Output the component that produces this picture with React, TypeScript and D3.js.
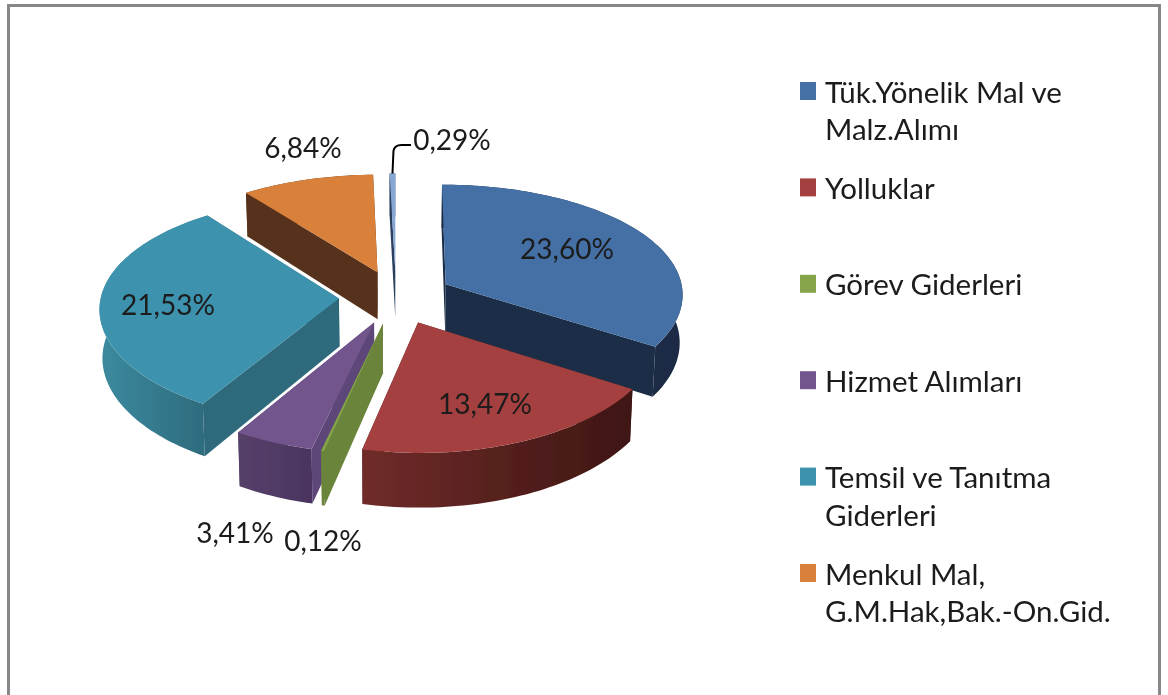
import React from "react";
import * as d3 from "d3";

const WIDTH = 1168;
const HEIGHT = 695;

// values as printed on the chart, in percent
const shares = [23.6, 13.47, 0.12, 3.41, 21.53, 6.84, 0.29];

const topColors = ["#4570a5", "#a5413f", "#86a44a", "#72558c", "#3e93ae", "#d9803a", "#86a6d6"];
const sideColors = ["#1b2e47", "#451a18", "#6b843a", "#5d4779", "#2d6a7c", "#57331a", "#2a3f5c"];
const wallStart = ["#1b2e47", "#702b29", "#6b843a", "#564069", "#3c8a9f", "#57331a", "#2a3f5c"];
const wallEnd = ["#1a2c44", "#3e1613", "#6b843a", "#4a3560", "#2d6a7c", "#57331a", "#2a3f5c"];

// the order the slices are painted in, back to front
const paintOrder = [6, 5, 0, 4, 3, 2, 1];

const legendItems = [
  ["Tük.Yönelik Mal ve", "Malz.Alımı"],
  ["Yolluklar"],
  ["Görev Giderleri"],
  ["Hizmet Alımları"],
  ["Temsil ve Tanıtma", "Giderleri"],
  ["Menkul Mal,", "G.M.Hak,Bak.-On.Gid."],
];

// label centres
const labelSpots = [
  [567, 248],
  [485, 403],
  [323, 540],
  [235, 532],
  [168, 304],
  [303, 147],
  [452, 139],
];

const FONT = "Lato, 'Open Sans', sans-serif";

// pie projection
const cx = 396;
const cy = 297;
const radiusX = 238;
const radiusY = 112;
const perspectiveX = 0.08;
const perspectiveY = 0.1;
const explode = 0.24;
const depth = 48;
const bottomShrink = 0.99;

function project(u: number, v: number, bottom = false): [number, number] {
  const wx = 1 + perspectiveX * v;
  const wy = 1 + perspectiveY * v;
  const x = (radiusX * u) / wx;
  const y = (-radiusY * v) / wy;
  if (!bottom) return [cx + x, cy + y];
  return [cx + x * bottomShrink, cy + y + depth / wy];
}

const pieLayout = d3
  .pie<number>()
  .sort(null)
  .startAngle(0)
  .endAngle(2 * Math.PI);

const polygon = d3.line().curve(d3.curveLinear);

function sliceShapes(arc: d3.PieArcDatum<number>) {
  const mid = (arc.startAngle + arc.endAngle) / 2;
  const ou = explode * Math.sin(mid);
  const ov = explode * Math.cos(mid);
  const steps = Math.max(2, Math.ceil((arc.endAngle - arc.startAngle) * 40));
  const angle = d3.scaleLinear().domain([0, steps]).range([arc.startAngle, arc.endAngle]);
  const thetas = d3.range(steps + 1).map((i) => angle(i));
  const rim = (t: number, bottom: boolean) =>
    project(ou + Math.sin(t), ov + Math.cos(t), bottom);

  const apexTop = project(ou, ov);
  const apexBottom = project(ou, ov, true);
  const topRim = thetas.map((t) => rim(t, false));
  const bottomRim = thetas.map((t) => rim(t, true));

  return {
    top: polygon([apexTop, ...topRim]) + "Z",
    outer: polygon([...topRim, ...bottomRim.slice().reverse()]) + "Z",
    sideA:
      polygon([apexTop, topRim[0], bottomRim[0], apexBottom]) + "Z",
    sideB:
      polygon([apexTop, topRim[steps], bottomRim[steps], apexBottom]) + "Z",
    rimMid: topRim[Math.floor(steps / 2)],
  };
}

export default function App() {
  const arcs = pieLayout(shares);
  const shapes = arcs.map(sliceShapes);
  const legendY = d3.scaleLinear().domain([0, 5]).range([91, 573]);
  const leaderFrom = shapes[6].rimMid;
  const leader = d3.path();
  leader.moveTo(leaderFrom[0], leaderFrom[1]);
  leader.lineTo(leaderFrom[0] + 1, 151);
  leader.quadraticCurveTo(leaderFrom[0] + 2, 145, leaderFrom[0] + 9, 145);
  leader.lineTo(411, 145);

  return (
    <svg
      width={WIDTH}
      height={HEIGHT}
      style={{ position: "absolute", left: 0, top: 0, background: "#fff" }}
    >
      <defs>
        <filter id="soft" x="0" y="0" width="100%" height="100%" filterUnits="userSpaceOnUse">
          <feGaussianBlur stdDeviation="0.6" />
        </filter>
        {shares.map((_, i) => (
          <linearGradient key={i} id={`wall${i}`} x1="0" y1="0" x2="1" y2="0">
            <stop offset="0" stopColor={wallStart[i]} />
            <stop offset="1" stopColor={wallEnd[i]} />
          </linearGradient>
        ))}
      </defs>
      <g filter="url(#soft)">
        <rect x={8.5} y={5.5} width={1151} height={760} fill="#fff" stroke="#878787" strokeWidth={3} />

        {paintOrder.map((i) => (
          <g key={i}>
            <path d={shapes[i].sideB} fill={sideColors[i]} />
            <path d={shapes[i].sideA} fill={sideColors[i]} />
            <path d={shapes[i].outer} fill={`url(#wall${i})`} />
            <path d={shapes[i].top} fill={topColors[i]} />
          </g>
        ))}

        <path d={leader.toString()} fill="none" stroke="#000" strokeWidth={2} />

        {shares.map((v, i) => (
          <text
            key={i}
            x={labelSpots[i][0]}
            y={labelSpots[i][1]}
            textAnchor="middle"
            dominantBaseline="central"
            fontFamily={FONT}
            fontSize={28}
            fill="#1a1a1a"
          >
            {v.toFixed(2).replace(".", ",") + "%"}
          </text>
        ))}

        {legendItems.map((lines, i) => (
          <g key={i} transform={`translate(0,${legendY(i)})`}>
            <rect x={800} y={-9} width={16} height={18} fill={topColors[i]} />
            {lines.map((line, j) => (
              <text
                key={j}
                x={825}
                y={j * 37.5}
                dominantBaseline="central"
                fontFamily={FONT}
                fontSize={29.5}
                fill="#1a1a1a"
              >
                {line}
              </text>
            ))}
          </g>
        ))}
      </g>
    </svg>
  );
}
